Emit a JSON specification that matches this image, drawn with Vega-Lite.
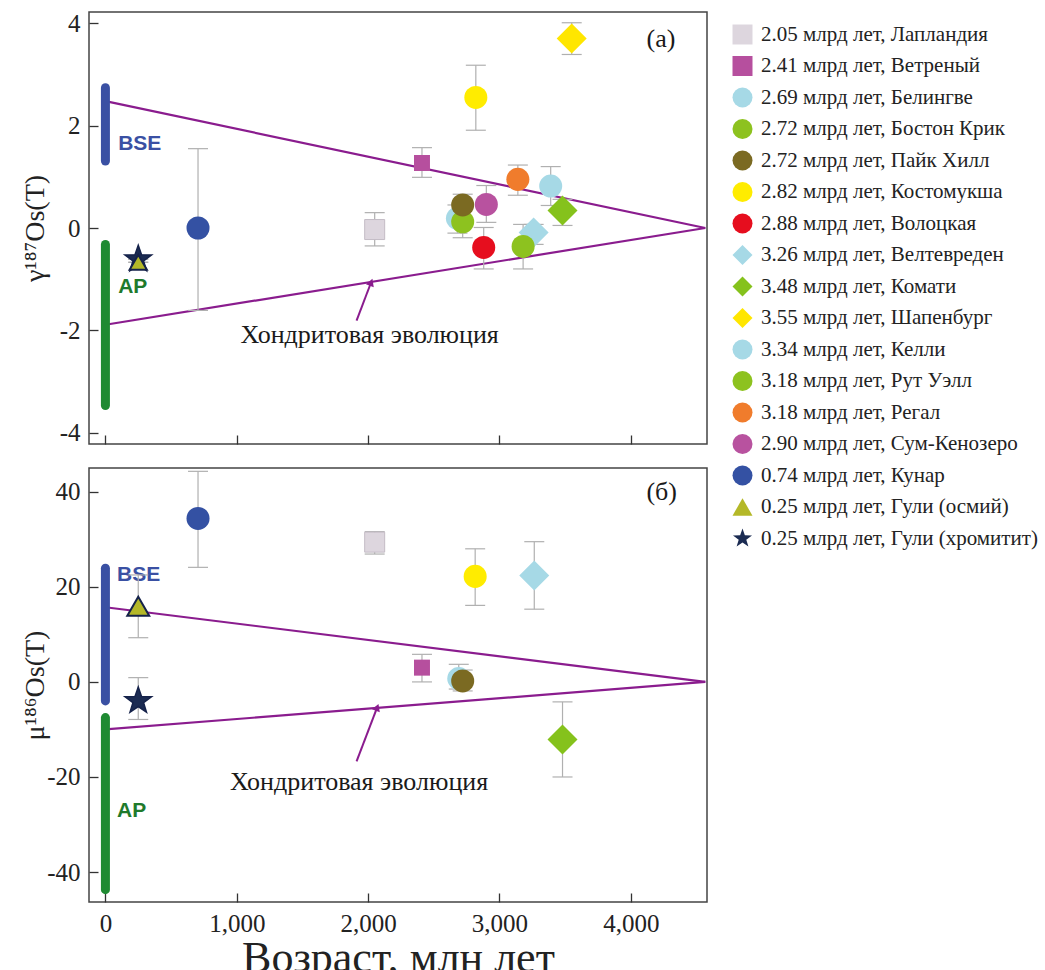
{
  "$schema": "https://vega.github.io/schema/vega-lite/v6.json",
  "padding": {"left": 20, "top": 10, "right": 0, "bottom": 0},
  "config": {
    "view": {"stroke": "#444", "strokeWidth": 1.5},
    "font": "Liberation Serif",
    "axis": {"labelFont": "Liberation Serif", "labelFontSize": 25, "labelColor": "#222", "titleFont": "Liberation Serif", "titleFontWeight": "normal", "titleColor": "#222", "tickColor": "#333", "tickWidth": 1.3, "domain": false, "grid": false},
    "legend": {"orient": "right", "offset": 12, "padding": 12, "labelFont": "Liberation Serif", "labelFontSize": 21, "labelColor": "#222", "rowPadding": 9.5, "labelOffset": 8, "labelLimit": 400, "symbolSize": 400, "symbolStrokeWidth": 0}
  },
  "datasets": {
    "gamma": [
      {"name": "0.74 млрд лет, Кунар", "age": 705, "val": 0, "lo": -1.61, "hi": 1.55},
      {"name": "0.25 млрд лет, Гули (хромитит)", "age": 250, "val": -0.61, "lo": -0.61, "hi": -0.61},
      {"name": "0.25 млрд лет, Гули (осмий)", "age": 250, "val": -0.67, "lo": -0.67, "hi": -0.67},
      {"name": "2.05 млрд лет, Лапландия", "age": 2050, "val": -0.03, "lo": -0.35, "hi": 0.3},
      {"name": "2.41 млрд лет, Ветреный", "age": 2410, "val": 1.27, "lo": 0.99, "hi": 1.57},
      {"name": "2.82 млрд лет, Костомукша", "age": 2820, "val": 2.55, "lo": 1.91, "hi": 3.18},
      {"name": "3.55 млрд лет, Шапенбург", "age": 3550, "val": 3.7, "lo": 3.39, "hi": 4.01},
      {"name": "2.69 млрд лет, Белингве", "age": 2680, "val": 0.19, "lo": -0.1, "hi": 0.45},
      {"name": "2.72 млрд лет, Бостон Крик", "age": 2720, "val": 0.12, "lo": -0.19, "hi": 0.4},
      {"name": "2.72 млрд лет, Пайк Хилл", "age": 2720, "val": 0.45, "lo": 0.2, "hi": 0.66},
      {"name": "2.90 млрд лет, Сум-Кенозеро", "age": 2900, "val": 0.46, "lo": 0.11, "hi": 0.83},
      {"name": "2.88 млрд лет, Волоцкая", "age": 2880, "val": -0.38, "lo": -0.8, "hi": 0.01},
      {"name": "3.18 млрд лет, Регал", "age": 3140, "val": 0.95, "lo": 0.64, "hi": 1.23},
      {"name": "3.34 млрд лет, Келли", "age": 3390, "val": 0.82, "lo": 0.44, "hi": 1.2},
      {"name": "3.26 млрд лет, Велтевреден", "age": 3260, "val": -0.09, "lo": -0.32, "hi": 0.07},
      {"name": "3.18 млрд лет, Рут Уэлл", "age": 3180, "val": -0.36, "lo": -0.8, "hi": 0.07},
      {"name": "3.48 млрд лет, Комати", "age": 3480, "val": 0.34, "lo": 0.05, "hi": 0.56}
    ],
    "mu": [
      {"name": "0.74 млрд лет, Кунар", "age": 705, "val": 34.4, "lo": 24.1, "hi": 44.3},
      {"name": "2.05 млрд лет, Лапландия", "age": 2050, "val": 29.4, "lo": 26.9, "hi": 31.6},
      {"name": "0.25 млрд лет, Гули (осмий)", "age": 250, "val": 15.9, "lo": 9.3, "hi": 22.5},
      {"name": "0.25 млрд лет, Гули (хромитит)", "age": 250, "val": -4.0, "lo": -7.9, "hi": 0.9},
      {"name": "2.82 млрд лет, Костомукша", "age": 2815, "val": 22.2, "lo": 16.1, "hi": 28.0},
      {"name": "3.26 млрд лет, Велтевреден", "age": 3265, "val": 22.4, "lo": 15.3, "hi": 29.5},
      {"name": "2.41 млрд лет, Ветреный", "age": 2410, "val": 3.0, "lo": 0.0, "hi": 5.8},
      {"name": "2.69 млрд лет, Белингве", "age": 2690, "val": 0.7, "lo": -1.5, "hi": 3.7},
      {"name": "2.72 млрд лет, Пайк Хилл", "age": 2720, "val": 0.2, "lo": -1.9, "hi": 2.5},
      {"name": "3.48 млрд лет, Комати", "age": 3480, "val": -12.1, "lo": -20.0, "hi": -4.2}
    ],
    "evol_g": [
      {"a0": 0, "v0": 2.48, "a1": 4567, "v1": 0},
      {"a0": 0, "v0": -1.89, "a1": 4567, "v1": 0}
    ],
    "evol_m": [
      {"a0": 0, "v0": 15.7, "a1": 4567, "v1": 0},
      {"a0": 0, "v0": -10.0, "a1": 4567, "v1": 0}
    ],
    "arrow_g": [{"a0": 1912, "v0": -1.81, "a1": 2023, "v1": -1.06}],
    "arrow_m": [{"a0": 1912, "v0": -16.7, "a1": 2069, "v1": -5.35}],
    "bse_g": [{"res": "BSE", "age": 0, "lo": 1.31, "hi": 2.74, "lx": 97, "ly": 1.64}],
    "ap_g": [{"res": "AP", "age": 0, "lo": -3.47, "hi": -0.32, "lx": 97, "ly": -1.16}],
    "bse_m": [{"res": "BSE", "age": 0, "lo": -4.0, "hi": 23.9, "lx": 89, "ly": 22.5}],
    "ap_m": [{"res": "AP", "age": 0, "lo": -43.7, "hi": -7.5, "lx": 89, "ly": -27.1}],
    "note_g": [
      {"txt": "Хондритовая эволюция", "age": 2012, "val": -2.1},
      {"txt": "(a)", "age": 4230, "val": 3.7}
    ],
    "note_m": [
      {"txt": "Хондритовая эволюция", "age": 1931, "val": -21.1},
      {"txt": "(б)", "age": 4235, "val": 39.9}
    ]
  },
  "spacing": 20,
  "vconcat": [
    {
      "width": 618,
      "height": 432,
      "layer": [
        {
          "data": {"name": "evol_g"},
          "mark": {"type": "rule", "color": "#8a1c8e", "strokeWidth": 2.2},
          "encoding": {
            "x": {"field": "a0", "type": "quantitative", "scale": {"domain": [-125, 4580], "nice": false, "zero": false}, "axis": {"values": [0, 1000, 2000, 3000, 4000], "labels": false, "tickSize": -9, "title": null}},
            "y": {"field": "v0", "type": "quantitative", "scale": {"domain": [-4.22, 4.22], "nice": false, "zero": false}, "axis": {"values": [-4, -2, 0, 2, 4], "tickSize": -9, "labelPadding": 18, "labelExpr": "datum.value < 0 ? '-' + abs(datum.value) : '' + datum.value", "title": "γ¹⁸⁷Os(T)", "titleFontSize": 28, "titlePadding": 10, "minExtent": 30, "maxExtent": 30}},
            "x2": {"field": "a1"},
            "y2": {"field": "v1"}
          }
        },
        {
          "data": {"name": "arrow_g"},
          "mark": {"type": "rule", "color": "#8a1c8e", "strokeWidth": 2},
          "encoding": {
            "x": {"field": "a0", "type": "quantitative"},
            "y": {"field": "v0", "type": "quantitative"},
            "x2": {"field": "a1"},
            "y2": {"field": "v1"}
          }
        },
        {
          "data": {"name": "arrow_g"},
          "mark": {"type": "point", "shape": "triangle-up", "filled": true, "color": "#8a1c8e", "size": 70, "angle": 21, "opacity": 1},
          "encoding": {
            "x": {"field": "a1", "type": "quantitative"},
            "y": {"field": "v1", "type": "quantitative"}
          }
        },
        {
          "data": {"name": "bse_g"},
          "mark": {"type": "rule", "strokeWidth": 9, "strokeCap": "round", "color": "#3a50a3"},
          "encoding": {
            "x": {"field": "age", "type": "quantitative"},
            "y": {"field": "lo", "type": "quantitative"},
            "y2": {"field": "hi"}
          }
        },
        {
          "data": {"name": "ap_g"},
          "mark": {"type": "rule", "strokeWidth": 9, "strokeCap": "round", "color": "#1f8a32"},
          "encoding": {
            "x": {"field": "age", "type": "quantitative"},
            "y": {"field": "lo", "type": "quantitative"},
            "y2": {"field": "hi"}
          }
        },
        {
          "data": {"name": "bse_g"},
          "mark": {"type": "text", "font": "Liberation Sans", "fontWeight": "bold", "fontSize": 21, "align": "left", "baseline": "middle", "color": "#3a50a3"},
          "encoding": {
            "x": {"field": "lx", "type": "quantitative"},
            "y": {"field": "ly", "type": "quantitative"},
            "text": {"field": "res"}
          }
        },
        {
          "data": {"name": "ap_g"},
          "mark": {"type": "text", "font": "Liberation Sans", "fontWeight": "bold", "fontSize": 21, "align": "left", "baseline": "middle", "color": "#1f7a2c"},
          "encoding": {
            "x": {"field": "lx", "type": "quantitative"},
            "y": {"field": "ly", "type": "quantitative"},
            "text": {"field": "res"}
          }
        },
        {
          "data": {"name": "note_g"},
          "mark": {"type": "text", "font": "Liberation Serif", "fontSize": 26, "align": "center", "baseline": "middle", "color": "#1a1a1a"},
          "encoding": {
            "x": {"field": "age", "type": "quantitative"},
            "y": {"field": "val", "type": "quantitative"},
            "text": {"field": "txt"}
          }
        },
        {
          "data": {"name": "gamma"},
          "mark": {"type": "rule", "color": "#b0b0b0", "strokeWidth": 1.2},
          "encoding": {
            "x": {"field": "age", "type": "quantitative"},
            "y": {"field": "lo", "type": "quantitative"},
            "y2": {"field": "hi"}
          }
        },
        {
          "data": {"name": "gamma"},
          "mark": {"type": "point", "shape": "M-1,0L1,0", "filled": false, "color": "#b0b0b0", "size": 400, "strokeWidth": 1.2, "opacity": 1},
          "encoding": {
            "x": {"field": "age", "type": "quantitative"},
            "y": {"field": "lo", "type": "quantitative"}
          }
        },
        {
          "data": {"name": "gamma"},
          "mark": {"type": "point", "shape": "M-1,0L1,0", "filled": false, "color": "#b0b0b0", "size": 400, "strokeWidth": 1.2, "opacity": 1},
          "encoding": {
            "x": {"field": "age", "type": "quantitative"},
            "y": {"field": "hi", "type": "quantitative"}
          }
        },
        {
          "data": {"name": "gamma"},
          "transform": [{"filter": {"field": "name", "oneOf": ["2.05 млрд лет, Лапландия"]}}],
          "mark": {"type": "point", "filled": true, "opacity": 1, "size": 400, "stroke": "#c4bcc6", "strokeWidth": 1},
          "encoding": {
            "x": {"field": "age", "type": "quantitative"},
            "y": {"field": "val", "type": "quantitative"},
            "color": {"field": "name", "type": "nominal", "legend": {"title": null},
              "scale": {"domain": ["2.05 млрд лет, Лапландия", "2.41 млрд лет, Ветреный", "2.69 млрд лет, Белингве", "2.72 млрд лет, Бостон Крик", "2.72 млрд лет, Пайк Хилл", "2.82 млрд лет, Костомукша", "2.88 млрд лет, Волоцкая", "3.26 млрд лет, Велтевреден", "3.48 млрд лет, Комати", "3.55 млрд лет, Шапенбург", "3.34 млрд лет, Келли", "3.18 млрд лет, Рут Уэлл", "3.18 млрд лет, Регал", "2.90 млрд лет, Сум-Кенозеро", "0.74 млрд лет, Кунар", "0.25 млрд лет, Гули (осмий)", "0.25 млрд лет, Гули (хромитит)"],
                "range": ["#ddd6de", "#b64f9e", "#a6d9e6", "#8dc21f", "#7b6a22", "#ffec00", "#e60e1e", "#a6d9e6", "#85c21c", "#ffe600", "#a6d9e6", "#8dc21f", "#f07c2c", "#b8529f", "#3451a3", "#b4b828", "#1b2b52"]}},
            "shape": {"field": "name", "type": "nominal", "legend": {"title": null},
              "scale": {"domain": ["2.05 млрд лет, Лапландия", "2.41 млрд лет, Ветреный", "2.69 млрд лет, Белингве", "2.72 млрд лет, Бостон Крик", "2.72 млрд лет, Пайк Хилл", "2.82 млрд лет, Костомукша", "2.88 млрд лет, Волоцкая", "3.26 млрд лет, Велтевреден", "3.48 млрд лет, Комати", "3.55 млрд лет, Шапенбург", "3.34 млрд лет, Келли", "3.18 млрд лет, Рут Уэлл", "3.18 млрд лет, Регал", "2.90 млрд лет, Сум-Кенозеро", "0.74 млрд лет, Кунар", "0.25 млрд лет, Гули (осмий)", "0.25 млрд лет, Гули (хромитит)"],
                "range": ["square", "square", "circle", "circle", "circle", "circle", "circle", "diamond", "diamond", "diamond", "circle", "circle", "circle", "circle", "circle", "triangle-up", "M0,-1L0.235,-0.324L0.951,-0.309L0.38,0.124L0.588,0.809L0,0.4L-0.588,0.809L-0.38,0.124L-0.951,-0.309L-0.235,-0.324Z"]}}
          }
        },
        {
          "data": {"name": "gamma"},
          "transform": [{"filter": {"field": "name", "oneOf": ["2.41 млрд лет, Ветреный"]}}],
          "mark": {"type": "point", "filled": true, "opacity": 1, "size": 256},
          "encoding": {
            "x": {"field": "age", "type": "quantitative"},
            "y": {"field": "val", "type": "quantitative"},
            "color": {"field": "name", "type": "nominal", "legend": {"title": null}},
            "shape": {"field": "name", "type": "nominal", "legend": {"title": null}}
          }
        },
        {
          "data": {"name": "gamma"},
          "transform": [{"filter": {"field": "name", "oneOf": ["3.26 млрд лет, Велтевреден", "3.48 млрд лет, Комати", "3.55 млрд лет, Шапенбург"]}}],
          "mark": {"type": "point", "filled": true, "opacity": 1, "size": 900},
          "encoding": {
            "x": {"field": "age", "type": "quantitative"},
            "y": {"field": "val", "type": "quantitative"},
            "color": {"field": "name", "type": "nominal", "legend": {"title": null}},
            "shape": {"field": "name", "type": "nominal", "legend": {"title": null}}
          }
        },
        {
          "data": {"name": "gamma"},
          "transform": [{"filter": {"field": "name", "oneOf": ["0.74 млрд лет, Кунар", "2.82 млрд лет, Костомукша", "2.69 млрд лет, Белингве", "2.72 млрд лет, Бостон Крик", "2.72 млрд лет, Пайк Хилл", "2.90 млрд лет, Сум-Кенозеро", "2.88 млрд лет, Волоцкая", "3.18 млрд лет, Регал", "3.34 млрд лет, Келли", "3.18 млрд лет, Рут Уэлл"]}}],
          "mark": {"type": "point", "filled": true, "opacity": 1, "size": 530},
          "encoding": {
            "x": {"field": "age", "type": "quantitative"},
            "y": {"field": "val", "type": "quantitative"},
            "color": {"field": "name", "type": "nominal", "legend": {"title": null}},
            "shape": {"field": "name", "type": "nominal", "legend": {"title": null}}
          }
        },
        {
          "data": {"name": "gamma"},
          "transform": [{"filter": {"field": "name", "oneOf": ["0.25 млрд лет, Гули (хромитит)"]}}],
          "mark": {"type": "point", "filled": true, "opacity": 1, "size": 784, "stroke": "#15224a", "strokeWidth": 1.5},
          "encoding": {
            "x": {"field": "age", "type": "quantitative"},
            "y": {"field": "val", "type": "quantitative"},
            "color": {"field": "name", "type": "nominal", "legend": {"title": null}},
            "shape": {"field": "name", "type": "nominal", "legend": {"title": null}}
          }
        },
        {
          "data": {"name": "gamma"},
          "transform": [{"filter": {"field": "name", "oneOf": ["0.25 млрд лет, Гули (осмий)"]}}],
          "mark": {"type": "point", "filled": true, "opacity": 1, "size": 300, "stroke": "#15224a", "strokeWidth": 2},
          "encoding": {
            "x": {"field": "age", "type": "quantitative"},
            "y": {"field": "val", "type": "quantitative"},
            "color": {"field": "name", "type": "nominal", "legend": {"title": null}},
            "shape": {"field": "name", "type": "nominal", "legend": {"title": null}}
          }
        }
      ]
    },
    {
      "width": 618,
      "height": 434,
      "layer": [
        {
          "data": {"name": "evol_m"},
          "mark": {"type": "rule", "color": "#8a1c8e", "strokeWidth": 2.2},
          "encoding": {
            "x": {"field": "a0", "type": "quantitative", "scale": {"domain": [-125, 4580], "nice": false, "zero": false}, "axis": {"values": [0, 1000, 2000, 3000, 4000], "tickSize": -9, "labelPadding": 18, "title": "Возраст, млн лет", "titleFontSize": 44, "titlePadding": 0}},
            "y": {"field": "v0", "type": "quantitative", "scale": {"domain": [-46.3, 45], "nice": false, "zero": false}, "axis": {"values": [-40, -20, 0, 20, 40], "tickSize": -9, "labelPadding": 18, "labelExpr": "datum.value < 0 ? '-' + abs(datum.value) : '' + datum.value", "title": "μ¹⁸⁶Os(T)", "titleFontSize": 28, "titlePadding": 10, "minExtent": 30, "maxExtent": 30}},
            "x2": {"field": "a1"},
            "y2": {"field": "v1"}
          }
        },
        {
          "data": {"name": "arrow_m"},
          "mark": {"type": "rule", "color": "#8a1c8e", "strokeWidth": 2},
          "encoding": {
            "x": {"field": "a0", "type": "quantitative"},
            "y": {"field": "v0", "type": "quantitative"},
            "x2": {"field": "a1"},
            "y2": {"field": "v1"}
          }
        },
        {
          "data": {"name": "arrow_m"},
          "mark": {"type": "point", "shape": "triangle-up", "filled": true, "color": "#8a1c8e", "size": 70, "angle": 21, "opacity": 1},
          "encoding": {
            "x": {"field": "a1", "type": "quantitative"},
            "y": {"field": "v1", "type": "quantitative"}
          }
        },
        {
          "data": {"name": "bse_m"},
          "mark": {"type": "rule", "strokeWidth": 9, "strokeCap": "round", "color": "#3a50a3"},
          "encoding": {
            "x": {"field": "age", "type": "quantitative"},
            "y": {"field": "lo", "type": "quantitative"},
            "y2": {"field": "hi"}
          }
        },
        {
          "data": {"name": "ap_m"},
          "mark": {"type": "rule", "strokeWidth": 9, "strokeCap": "round", "color": "#1f8a32"},
          "encoding": {
            "x": {"field": "age", "type": "quantitative"},
            "y": {"field": "lo", "type": "quantitative"},
            "y2": {"field": "hi"}
          }
        },
        {
          "data": {"name": "bse_m"},
          "mark": {"type": "text", "font": "Liberation Sans", "fontWeight": "bold", "fontSize": 21, "align": "left", "baseline": "middle", "color": "#3a50a3"},
          "encoding": {
            "x": {"field": "lx", "type": "quantitative"},
            "y": {"field": "ly", "type": "quantitative"},
            "text": {"field": "res"}
          }
        },
        {
          "data": {"name": "ap_m"},
          "mark": {"type": "text", "font": "Liberation Sans", "fontWeight": "bold", "fontSize": 21, "align": "left", "baseline": "middle", "color": "#1f7a2c"},
          "encoding": {
            "x": {"field": "lx", "type": "quantitative"},
            "y": {"field": "ly", "type": "quantitative"},
            "text": {"field": "res"}
          }
        },
        {
          "data": {"name": "note_m"},
          "mark": {"type": "text", "font": "Liberation Serif", "fontSize": 26, "align": "center", "baseline": "middle", "color": "#1a1a1a"},
          "encoding": {
            "x": {"field": "age", "type": "quantitative"},
            "y": {"field": "val", "type": "quantitative"},
            "text": {"field": "txt"}
          }
        },
        {
          "data": {"name": "mu"},
          "mark": {"type": "rule", "color": "#b0b0b0", "strokeWidth": 1.2},
          "encoding": {
            "x": {"field": "age", "type": "quantitative"},
            "y": {"field": "lo", "type": "quantitative"},
            "y2": {"field": "hi"}
          }
        },
        {
          "data": {"name": "mu"},
          "mark": {"type": "point", "shape": "M-1,0L1,0", "filled": false, "color": "#b0b0b0", "size": 400, "strokeWidth": 1.2, "opacity": 1},
          "encoding": {
            "x": {"field": "age", "type": "quantitative"},
            "y": {"field": "lo", "type": "quantitative"}
          }
        },
        {
          "data": {"name": "mu"},
          "mark": {"type": "point", "shape": "M-1,0L1,0", "filled": false, "color": "#b0b0b0", "size": 400, "strokeWidth": 1.2, "opacity": 1},
          "encoding": {
            "x": {"field": "age", "type": "quantitative"},
            "y": {"field": "hi", "type": "quantitative"}
          }
        },
        {
          "data": {"name": "mu"},
          "transform": [{"filter": {"field": "name", "oneOf": ["2.05 млрд лет, Лапландия"]}}],
          "mark": {"type": "point", "filled": true, "opacity": 1, "size": 400, "stroke": "#c4bcc6", "strokeWidth": 1},
          "encoding": {
            "x": {"field": "age", "type": "quantitative"},
            "y": {"field": "val", "type": "quantitative"},
            "color": {"field": "name", "type": "nominal", "legend": {"title": null}},
            "shape": {"field": "name", "type": "nominal", "legend": {"title": null}}
          }
        },
        {
          "data": {"name": "mu"},
          "transform": [{"filter": {"field": "name", "oneOf": ["2.41 млрд лет, Ветреный"]}}],
          "mark": {"type": "point", "filled": true, "opacity": 1, "size": 256},
          "encoding": {
            "x": {"field": "age", "type": "quantitative"},
            "y": {"field": "val", "type": "quantitative"},
            "color": {"field": "name", "type": "nominal", "legend": {"title": null}},
            "shape": {"field": "name", "type": "nominal", "legend": {"title": null}}
          }
        },
        {
          "data": {"name": "mu"},
          "transform": [{"filter": {"field": "name", "oneOf": ["3.26 млрд лет, Велтевреден", "3.48 млрд лет, Комати"]}}],
          "mark": {"type": "point", "filled": true, "opacity": 1, "size": 900},
          "encoding": {
            "x": {"field": "age", "type": "quantitative"},
            "y": {"field": "val", "type": "quantitative"},
            "color": {"field": "name", "type": "nominal", "legend": {"title": null}},
            "shape": {"field": "name", "type": "nominal", "legend": {"title": null}}
          }
        },
        {
          "data": {"name": "mu"},
          "transform": [{"filter": {"field": "name", "oneOf": ["0.74 млрд лет, Кунар", "2.82 млрд лет, Костомукша", "2.69 млрд лет, Белингве", "2.72 млрд лет, Пайк Хилл"]}}],
          "mark": {"type": "point", "filled": true, "opacity": 1, "size": 530},
          "encoding": {
            "x": {"field": "age", "type": "quantitative"},
            "y": {"field": "val", "type": "quantitative"},
            "color": {"field": "name", "type": "nominal", "legend": {"title": null}},
            "shape": {"field": "name", "type": "nominal", "legend": {"title": null}}
          }
        },
        {
          "data": {"name": "mu"},
          "transform": [{"filter": {"field": "name", "oneOf": ["0.25 млрд лет, Гули (хромитит)"]}}],
          "mark": {"type": "point", "filled": true, "opacity": 1, "size": 784, "stroke": "#15224a", "strokeWidth": 1.5},
          "encoding": {
            "x": {"field": "age", "type": "quantitative"},
            "y": {"field": "val", "type": "quantitative"},
            "color": {"field": "name", "type": "nominal", "legend": {"title": null}},
            "shape": {"field": "name", "type": "nominal", "legend": {"title": null}}
          }
        },
        {
          "data": {"name": "mu"},
          "transform": [{"filter": {"field": "name", "oneOf": ["0.25 млрд лет, Гули (осмий)"]}}],
          "mark": {"type": "point", "filled": true, "opacity": 1, "size": 480, "stroke": "#15224a", "strokeWidth": 2},
          "encoding": {
            "x": {"field": "age", "type": "quantitative"},
            "y": {"field": "val", "type": "quantitative"},
            "color": {"field": "name", "type": "nominal", "legend": {"title": null}},
            "shape": {"field": "name", "type": "nominal", "legend": {"title": null}}
          }
        }
      ]
    }
  ]
}
